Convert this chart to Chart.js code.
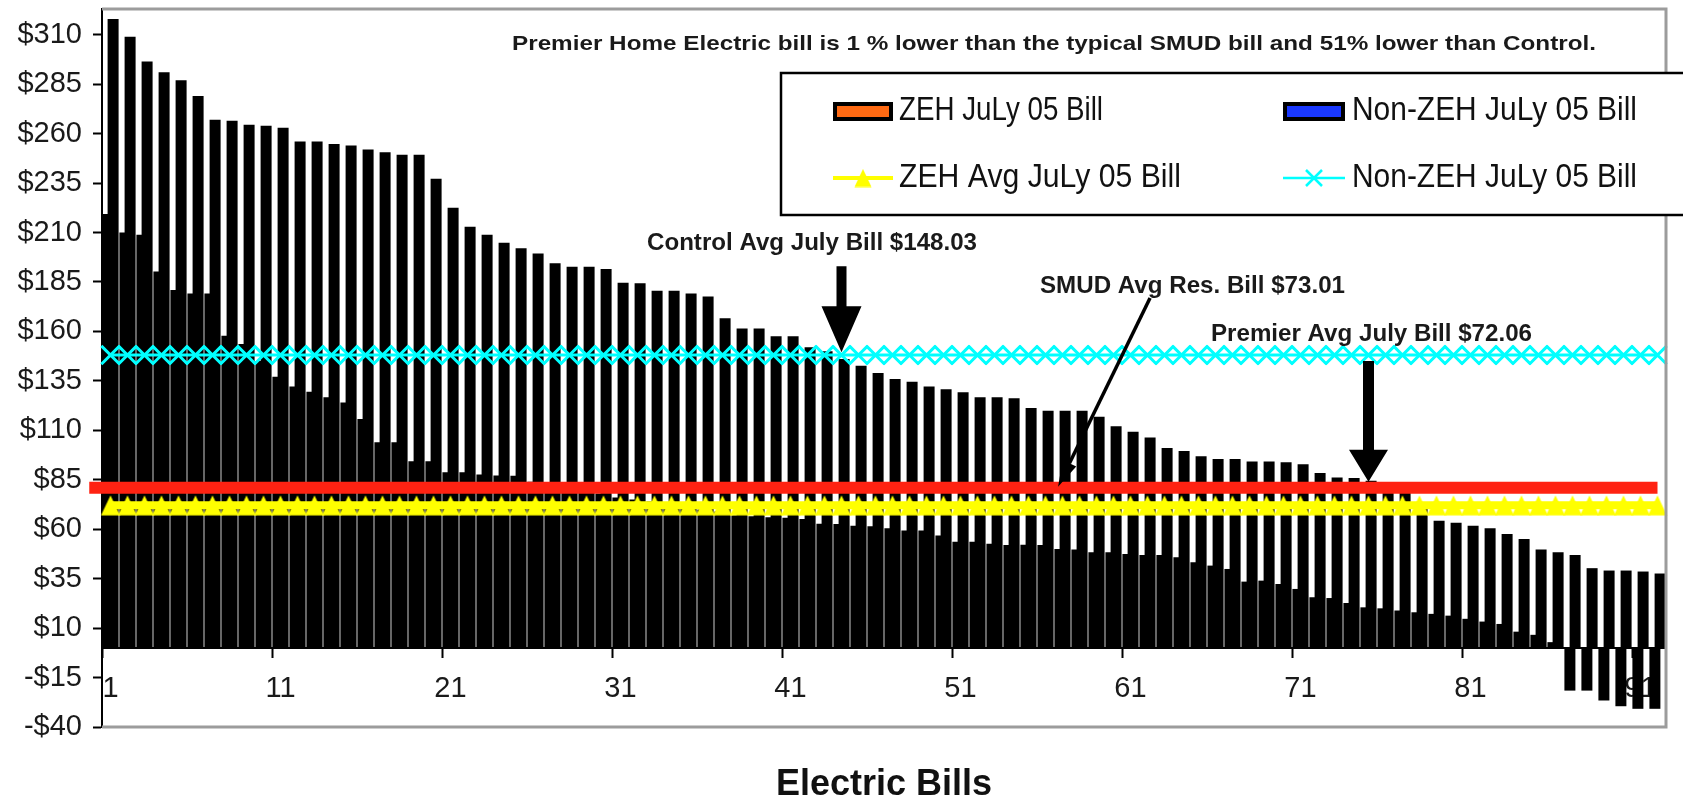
<!DOCTYPE html>
<html>
<head>
<meta charset="utf-8">
<script src="https://cdn.jsdelivr.net/npm/chart.js@4.4.1/dist/chart.umd.min.js"></script>
<style>
  html, body { margin: 0; padding: 0; background: #ffffff; }
  #wrap { width: 1683px; height: 803px; position: relative; }
</style>
</head>
<body>
<div id="wrap"><canvas id="c" width="1683" height="803"></canvas></div>
<script>
// ---------------- DATA ----------------
const categories = ['1','2','3','4','5','6','7','8','9','10','11','12','13','14','15','16','17','18','19','20',
  '21','22','23','24','25','26','27','28','29','30','31','32','33','34','35','36','37','38','39','40',
  '41','42','43','44','45','46','47','48','49','50','51','52','53','54','55','56','57','58','59','60',
  '61','62','63','64','65','66','67','68','69','70','71','72','73','74','75','76','77','78','79','80',
  '81','82','83','84','85','86','87','88','89','90','91','92'];

const xTickLabels = ['1','11','21','31','41','51','61','71','81','91'];
const yTickValues = [-40,-15,10,35,60,85,110,135,160,185,210,235,260,285,310];

const nonZehBill = [318,309,296.5,291,287,279,267,266.5,264.5,264,
  263,256,256,254.7,254,252,250.6,249.3,249.3,237.2,
  222.5,212.9,208.9,204.8,202.1,199.4,194.4,192.7,192.7,191.5,
  184.6,184.4,180.6,180.6,179.2,177.7,166.6,161.5,161.5,157.5,
  157.5,152,150,146,142.7,139,135.9,134.6,132.1,130.7,
  129.2,126.7,126.7,126.2,121.3,119.9,119.9,119.9,116.9,112,
  109.3,106.4,101.1,99.5,96.9,95.5,95.5,94.2,94.2,93.8,
  92.8,88.4,86.2,85.9,84.5,82,79.5,73,64.3,63.2,
  61.8,60.5,57.6,55.1,49.7,48.3,47,40.3,39.1,39.1,
  38.6,37.6];

const zehBill = [219.3,210,208.9,190.3,180.9,179.2,179.2,157.8,153.6,145,
  137.1,132.1,129.5,126.7,124.1,115.7,103.9,103.9,94.3,94.3,
  88.8,88.8,87.6,87.1,87,84,83,82,80,78,
  76,75,74,72,71,70,69,67,66.5,66,
  65.8,65.2,62.8,62.6,61.8,61.5,60.5,59.3,59.3,56.8,
  53.7,53.7,52.6,52,52.2,52,50,49.7,48.3,48.3,
  47.5,47,47,45.8,43.3,41.6,39.9,33.5,34,32.3,
  29.8,25.6,25.2,22.7,20.5,20,18.9,18,17.2,16.3,
  14.7,13.3,12.1,8.2,6.6,2.9,-21.6,-21.6,-26.6,-29.5,
  -30.8,-30.8];

const zehAvgBill = 72.06;      // ZEH Avg JuLy 05 Bill
const nonZehAvgBill = 148.03;  // Non-ZEH (control) average
const smudRedLineValue = 81.0; // red SMUD line as drawn

// ---------------- ANNOTATION LAYOUT (not data) ----------------
const FONT = "'Liberation Sans', Arial, Helvetica, sans-serif";
const notes = [
  { text: 'Premier Home Electric bill is 1 % lower than the typical SMUD bill and 51% lower than Control.', x: 512, y: 44, width: 1084, size: 21 },
  { text: 'Control Avg July Bill $148.03', x: 647, y: 243, width: 330, size: 24 },
  { text: 'SMUD Avg Res. Bill $73.01', x: 1040, y: 286, width: 305, size: 24 },
  { text: 'Premier Avg July Bill $72.06', x: 1211, y: 334, width: 321, size: 24 }
];
const blockArrows = [
  { index: 43, fromValue: 193, toValue: 149.5, shaft: 10, headLen: 46, headW: 40 },
  { index: 74, fromValue: 145, toValue: 84, shaft: 11, headLen: 32, headW: 39 }
];
const lineArrow = { fromIndex: 61.15, fromValue: 176.9, toIndex: 55.74, toValue: 81.5, width: 3.5, headLen: 26, headW: 15 };
const redLine = { fromIndex: -1.25, toIndex: 91, value: smudRedLineValue, width: 12, color: '#ff2212' };

// Excel-like triangle marker (symmetric around point)
function makeTriangle(w, h, color) {
  const cv = document.createElement('canvas');
  cv.width = w; cv.height = h;
  const g = cv.getContext('2d');
  g.fillStyle = color;
  g.beginPath();
  g.moveTo(w / 2, 0.5);
  g.lineTo(w - 0.5, h - 0.5);
  g.lineTo(0.5, h - 0.5);
  g.closePath();
  g.fill();
  return cv;
}
const triMarker = makeTriangle(20, 21, '#ffff00');
const triLegend = makeTriangle(18, 19, '#ffff00');

function fitText(ctx, t, x, y, width, font, sy, color) {
  ctx.save();
  ctx.font = font;
  const w = ctx.measureText(t).width;
  ctx.translate(x, y);
  ctx.scale(width / w, sy);
  ctx.fillStyle = color;
  ctx.textAlign = 'left';
  ctx.textBaseline = 'middle';
  ctx.fillText(t, 0, 0);
  ctx.restore();
}

const overlayPlugin = {
  id: 'overlay',
  afterDatasetsDraw(chart) {
    const ctx = chart.ctx;
    const xs = chart.scales.x, ys = chart.scales.y;
    // red SMUD line
    ctx.save();
    ctx.strokeStyle = redLine.color;
    ctx.lineWidth = redLine.width;
    ctx.lineCap = 'butt';
    ctx.beginPath();
    const ry = ys.getPixelForValue(redLine.value);
    ctx.moveTo(xs.getPixelForValue(redLine.fromIndex), ry);
    ctx.lineTo(xs.getPixelForValue(redLine.toIndex), ry);
    ctx.stroke();
    ctx.restore();

    // block arrows
    ctx.save();
    ctx.fillStyle = '#000';
    blockArrows.forEach(a => {
      const x = xs.getPixelForValue(a.index);
      const y1 = ys.getPixelForValue(a.fromValue);
      const y2 = ys.getPixelForValue(a.toValue);
      ctx.beginPath();
      ctx.moveTo(x - a.shaft / 2, y1);
      ctx.lineTo(x + a.shaft / 2, y1);
      ctx.lineTo(x + a.shaft / 2, y2 - a.headLen);
      ctx.lineTo(x + a.headW / 2, y2 - a.headLen);
      ctx.lineTo(x, y2);
      ctx.lineTo(x - a.headW / 2, y2 - a.headLen);
      ctx.lineTo(x - a.shaft / 2, y2 - a.headLen);
      ctx.closePath();
      ctx.fill();
    });
    // line arrow
    const p1x = xs.getPixelForValue(lineArrow.fromIndex), p1y = ys.getPixelForValue(lineArrow.fromValue);
    const p2x = xs.getPixelForValue(lineArrow.toIndex), p2y = ys.getPixelForValue(lineArrow.toValue);
    const ang = Math.atan2(p2y - p1y, p2x - p1x);
    const bx = p2x - Math.cos(ang) * lineArrow.headLen, by = p2y - Math.sin(ang) * lineArrow.headLen;
    ctx.strokeStyle = '#000';
    ctx.lineWidth = lineArrow.width;
    ctx.beginPath();
    ctx.moveTo(p1x, p1y);
    ctx.lineTo(bx, by);
    ctx.stroke();
    const nx = -Math.sin(ang), ny = Math.cos(ang);
    ctx.beginPath();
    ctx.moveTo(p2x, p2y);
    ctx.lineTo(bx + nx * lineArrow.headW / 2, by + ny * lineArrow.headW / 2);
    ctx.lineTo(bx - nx * lineArrow.headW / 2, by - ny * lineArrow.headW / 2);
    ctx.closePath();
    ctx.fill();
    ctx.restore();
  },
  afterDraw(chart) {
    const ctx = chart.ctx;
    const a = chart.chartArea;
    // plot border (top, right, bottom)
    ctx.save();
    ctx.strokeStyle = '#9c9c9c';
    ctx.lineWidth = 3;
    ctx.beginPath();
    ctx.moveTo(a.left, a.top);
    ctx.lineTo(a.right, a.top);
    ctx.lineTo(a.right, a.bottom);
    ctx.lineTo(a.left, a.bottom);
    ctx.stroke();
    ctx.restore();

    // legend box
    ctx.save();
    ctx.fillStyle = '#ffffff';
    ctx.fillRect(781, 73, 1000, 142);
    ctx.strokeStyle = '#000';
    ctx.lineWidth = 2.5;
    ctx.strokeRect(781, 73, 1000, 142);
    // bar swatches
    ctx.lineWidth = 4;
    ctx.fillStyle = '#ff6a13';
    ctx.fillRect(835, 104, 56, 15);
    ctx.strokeRect(835, 104, 56, 15);
    ctx.fillStyle = '#1a38ff';
    ctx.fillRect(1285, 104, 58, 15);
    ctx.strokeRect(1285, 104, 58, 15);
    // line swatches
    ctx.strokeStyle = '#ffff00';
    ctx.lineWidth = 4;
    ctx.beginPath(); ctx.moveTo(833, 178); ctx.lineTo(893, 178); ctx.stroke();
    ctx.drawImage(triLegend, 863 - 9, 178 - 9.5);
    ctx.strokeStyle = '#00ffff';
    ctx.lineWidth = 2.5;
    ctx.beginPath(); ctx.moveTo(1283, 178); ctx.lineTo(1345, 178); ctx.stroke();
    ctx.beginPath();
    ctx.moveTo(1314 - 8, 178 - 8); ctx.lineTo(1314 + 8, 178 + 8);
    ctx.moveTo(1314 - 8, 178 + 8); ctx.lineTo(1314 + 8, 178 - 8);
    ctx.stroke();
    ctx.restore();
    const lf = '27px ' + FONT;
    fitText(ctx, chart.data.datasets[0].label, 899, 111, 204, lf, 1.25, '#111');
    fitText(ctx, chart.data.datasets[1].label, 1352, 111, 285, lf, 1.25, '#111');
    fitText(ctx, chart.data.datasets[2].label, 899, 178, 282, lf, 1.25, '#111');
    fitText(ctx, chart.data.datasets[3].label, 1352, 178, 285, lf, 1.25, '#111');

    // annotation texts
    notes.forEach(n => fitText(ctx, n.text, n.x, n.y, n.width, 'bold ' + n.size + 'px ' + FONT, 1, '#1a1a1a'));
  }
};

Chart.defaults.font.family = FONT;

new Chart(document.getElementById('c'), {
  data: {
    labels: categories,
    datasets: [
      { type: 'bar', label: 'ZEH JuLy 05 Bill', data: zehBill, xAxisID: 'x',
        backgroundColor: '#000', borderWidth: 0, categoryPercentage: 0.6118, barPercentage: 2.115, order: 2 },
      { type: 'bar', label: 'Non-ZEH JuLy 05 Bill', data: nonZehBill, xAxisID: 'x',
        backgroundColor: '#000', borderWidth: 0, categoryPercentage: 0.6118, barPercentage: 2.115, order: 2 },
      { type: 'line', label: 'ZEH Avg JuLy 05 Bill', data: categories.map(() => zehAvgBill), xAxisID: 'x',
        borderColor: '#ffff00', borderWidth: 8, pointStyle: triMarker, pointRadius: 10, order: 1 },
      { type: 'line', label: 'Non-ZEH JuLy 05 Bill', data: categories.map(() => nonZehAvgBill), xAxisID: 'x',
        borderColor: '#00ffff', borderWidth: 3, pointStyle: 'crossRot', pointRadius: 13,
        pointBorderWidth: 3, pointBorderColor: '#00ffff', pointBackgroundColor: '#00ffff', order: 1 }
    ]
  },
  options: {
    responsive: false,
    animation: false,
    devicePixelRatio: 1,
    layout: { autoPadding: false, padding: { top: 9, right: 17, left: 0, bottom: 0 } },
    plugins: { legend: { display: false }, tooltip: { enabled: false }, title: { display: false } },
    scales: {
      x: {
        type: 'category',
        position: { y: 0 },
        offset: true,
        grid: { display: true, offset: true, drawOnChartArea: false, drawTicks: true, tickLength: 9, tickWidth: 2,
          tickColor: c => (c.index % 10 === 0 ? '#000' : 'rgba(0,0,0,0)') },
        border: { display: true, color: '#000', width: 2 },
        ticks: {
          autoSkip: false, maxRotation: 0, minRotation: 0, padding: 15,
          font: { size: 29 }, color: '#1a1a1a',
          callback: function (val) { const l = this.getLabelForValue(val); return xTickLabels.includes(l) ? l : ''; }
        },
        afterFit: s => { s.paddingLeft = 0; s.paddingRight = 0; s.paddingTop = 0; s.paddingBottom = 0; }
      },
      xb: {
        type: 'category',
        position: 'bottom',
        offset: true,
        grid: { display: false, drawTicks: false },
        border: { display: false },
        ticks: { display: false },
        title: { display: true, text: 'Electric Bills', color: '#111',
          font: { size: 36, weight: 'bold', lineHeight: 1 }, padding: { top: 0, bottom: 0 } },
        afterFit: s => { s.height = 76; s.paddingLeft = 0; s.paddingRight = 0; s.paddingTop = 0; s.paddingBottom = 0; }
      },
      y: {
        type: 'linear',
        position: 'left',
        min: -40,
        max: 323,
        afterBuildTicks: s => { s.ticks = yTickValues.map(v => ({ value: v })); },
        afterFit: s => { s.width = 102; s.paddingTop = 0; s.paddingBottom = 0; },
        grid: { drawOnChartArea: false, drawTicks: true, tickLength: 9, tickWidth: 2, tickColor: '#000' },
        border: { display: true, color: '#000', width: 2 },
        ticks: {
          padding: 11, font: { size: 29 }, color: '#1a1a1a',
          callback: v => (v < 0 ? '-$' + Math.abs(v) : '$' + v)
        }
      }
    }
  },
  plugins: [overlayPlugin]
});
</script>
</body>
</html>
